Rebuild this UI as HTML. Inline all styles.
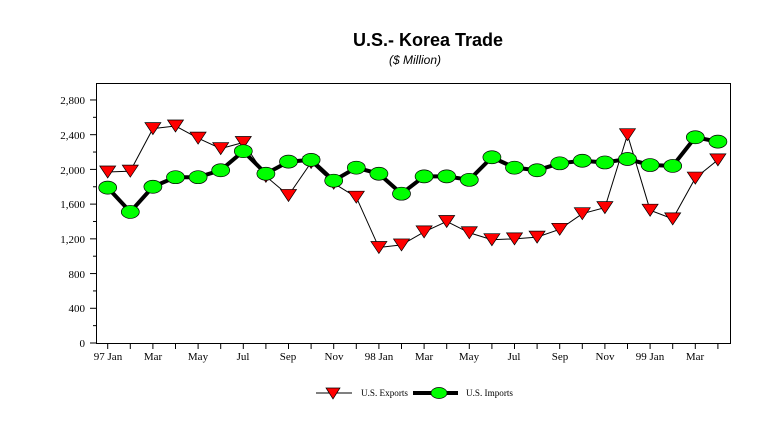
<!DOCTYPE html>
<html><head><meta charset="utf-8"><style>
body{margin:0;background:#fff;width:775px;height:429px;overflow:hidden}
svg text{font-family:"Liberation Serif",serif}
</style></head><body>
<svg id="s" width="775" height="429" xmlns="http://www.w3.org/2000/svg">
<text x="428" y="46" text-anchor="middle" style="font-family:'Liberation Sans',sans-serif;font-weight:bold;font-size:18px">U.S.- Korea Trade</text>
<text x="415" y="64" text-anchor="middle" style="font-family:'Liberation Sans',sans-serif;font-style:italic;font-size:12px">($ Million)</text>
<rect x="96.5" y="83.5" width="634" height="260" fill="none" stroke="#000"/>
<g font-size="11" text-anchor="end">
<text x="85" y="347">0</text><text x="85" y="312">400</text><text x="85" y="278">800</text><text x="85" y="243">1,200</text><text x="85" y="208">1,600</text><text x="85" y="174">2,000</text><text x="85" y="139">2,400</text><text x="85" y="104">2,800</text>
</g>
<g font-size="11" text-anchor="middle">
<text x="108" y="360">97 Jan</text><text x="153" y="360">Mar</text><text x="198" y="360">May</text><text x="243" y="360">Jul</text><text x="288" y="360">Sep</text><text x="334" y="360">Nov</text><text x="379" y="360">98 Jan</text><text x="424" y="360">Mar</text><text x="469" y="360">May</text><text x="514" y="360">Jul</text><text x="560" y="360">Sep</text><text x="605" y="360">Nov</text><text x="650" y="360">99 Jan</text><text x="695" y="360">Mar</text>
</g>
<g id="ax" stroke="#000" stroke-width="1"></g>
<g id="ser"></g>
<line x1="316" y1="393" x2="352" y2="393" stroke="#000"/>
<polygon points="326,388 340,388 333,399" fill="#f00" stroke="#000" stroke-width="0.7"/>
<text x="361" y="396" font-size="9" textLength="47" lengthAdjust="spacingAndGlyphs">U.S. Exports</text>
<line x1="413" y1="393" x2="458" y2="393" stroke="#000" stroke-width="4"/>
<ellipse cx="439" cy="393" rx="8" ry="5.5" fill="#0f0" stroke="#000" stroke-width="0.7"/>
<text x="466" y="396" font-size="9" textLength="47" lengthAdjust="spacingAndGlyphs">U.S. Imports</text>
</svg>
<script>
var ns="http://www.w3.org/2000/svg";
function el(p,t,a){var e=document.createElementNS(ns,t);for(var k in a)e.setAttribute(k,a[k]);document.getElementById(p).appendChild(e);return e;}
var ex=[1970,1980,2470,2500,2360,2240,2310,1920,1700,2080,1840,1680,1100,1130,1280,1400,1270,1190,1200,1220,1310,1490,1560,2400,1530,1430,1900,2110];
var im=[1790,1510,1800,1910,1910,1990,2210,1950,2090,2110,1870,2020,1950,1720,1920,1920,1880,2140,2020,1990,2070,2100,2080,2120,2050,2040,2370,2320];
function X(i){return 107.7+22.6*i}function Y(v){return 343-v*0.0868}
for(var v=0;v<=2800;v+=200){var y=Y(v);el("ax","line",{x1:v%400?93:90,x2:96,y1:y,y2:y});}
for(var i=0;i<28;i++){el("ax","line",{x1:X(i),x2:X(i),y1:343,y2:349});}
var pe=ex.map(function(v,i){return X(i)+","+Y(v)}).join(" ");
var pi=im.map(function(v,i){return X(i)+","+Y(v)}).join(" ");
el("ser","polyline",{points:pe,fill:"none",stroke:"#000","stroke-width":1});
ex.forEach(function(v,i){var x=X(i),y=Y(v);el("ser","polygon",{points:(x-8)+","+(y-6)+" "+(x+8)+","+(y-6)+" "+x+","+(y+6),fill:"#f00",stroke:"#000","stroke-width":0.7});});
el("ser","polyline",{points:pi,fill:"none",stroke:"#000","stroke-width":4,"stroke-linejoin":"round"});
im.forEach(function(v,i){el("ser","ellipse",{cx:X(i),cy:Y(v),rx:9,ry:6.5,fill:"#0f0",stroke:"#000","stroke-width":0.7});});
</script>
</body></html>
